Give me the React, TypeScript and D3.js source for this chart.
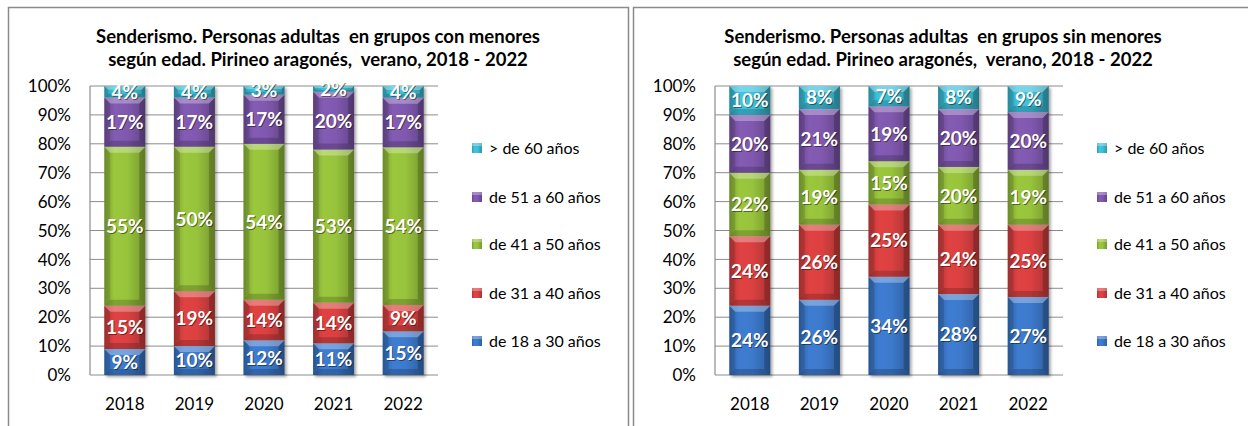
import React from "react";
import * as d3 from "d3";

const years = ["2018", "2019", "2020", "2021", "2022"];
const seriesNames = ["de 18 a 30 años", "de 31 a 40 años", "de 41 a 50 años", "de 51 a 60 años", "> de 60 años"];
const yTicks = [0, 10, 20, 30, 40, 50, 60, 70, 80, 90, 100];

// Con menores
const con18a30 = [9, 10, 12, 11, 15];
const con31a40 = [15, 19, 14, 14, 9];
const con41a50 = [55, 50, 54, 53, 54];
const con51a60 = [17, 17, 17, 20, 17];
const conMas60 = [4, 4, 3, 2, 4];

// Sin menores
const sin18a30 = [24, 26, 34, 28, 27];
const sin31a40 = [24, 26, 25, 24, 25];
const sin41a50 = [22, 19, 15, 20, 19];
const sin51a60 = [20, 21, 19, 20, 20];
const sinMas60 = [10, 8, 7, 8, 9];

const titleCon = ["Senderismo. Personas adultas  en grupos con menores", "según edad. Pirineo aragonés,  verano, 2018 - 2022"];
const titleSin = ["Senderismo. Personas adultas  en grupos sin menores", "según edad. Pirineo aragonés,  verano, 2018 - 2022"];

const colors = ["#3a76c6", "#d43f3f", "#93bd3a", "#7c56aa", "#3bbad3"];

const FONT = "Lato, 'Open Sans', sans-serif";

type ChartProps = { dx: number; title: string[]; series: number[][]; id: string };

function Chart({ dx, title, series, id }: ChartProps) {
  const plotL = 90 + dx;
  const plotR = 438 + dx;
  const plotT = 86;
  const plotB = 375;
  const x = d3.scaleBand<string>().domain(years).range([plotL, plotR]).paddingInner(0.41).paddingOuter(0.205);
  const y = d3.scaleLinear().domain([0, 1]).range([plotB, plotT]);
  const rows = years.map((yr, i) => {
    const o: any = { year: yr };
    seriesNames.forEach((s, k) => (o[s] = series[k][i]));
    return o;
  });
  const stack = d3.stack<any>().keys(seriesNames).offset(d3.stackOffsetExpand)(rows);
  const bw = x.bandwidth();

  const bevel = (x0: number, y0: number, w: number, h: number, k: number) => {
    const b = Math.min(6, h / 3);
    return (
      <g>
        <rect x={x0} y={y0} width={w} height={h} fill={`url(#g${id}${k})`} />
        <polygon points={`${x0},${y0} ${x0 + w},${y0} ${x0 + w - b},${y0 + b} ${x0 + b},${y0 + b}`} fill="#ffffff" opacity={0.3} />
        <polygon points={`${x0},${y0 + h} ${x0 + w},${y0 + h} ${x0 + w - b},${y0 + h - b} ${x0 + b},${y0 + h - b}`} fill="#000000" opacity={0.18} />
        <polygon points={`${x0},${y0} ${x0 + b},${y0 + b} ${x0 + b},${y0 + h - b} ${x0},${y0 + h}`} fill="#000000" opacity={0.12} />
        <polygon points={`${x0 + w},${y0} ${x0 + w - b},${y0 + b} ${x0 + w - b},${y0 + h - b} ${x0 + w},${y0 + h}`} fill="#000000" opacity={0.2} />
      </g>
    );
  };

  return (
    <g fontFamily={FONT}>
      <defs>
        {colors.map((c, k) => {
          const base = d3.color(c)!;
          return (
            <linearGradient key={k} id={`g${id}${k}`} x1="0" x2="1" y1="0" y2="0">
              <stop offset="0" stopColor={base.darker(0.5).toString()} />
              <stop offset="0.25" stopColor={base.brighter(0.15).toString()} />
              <stop offset="0.55" stopColor={base.brighter(0.1).toString()} />
              <stop offset="1" stopColor={base.darker(0.6).toString()} />
            </linearGradient>
          );
        })}
        <filter id={`sh${id}`} x="-20%" y="-20%" width="150%" height="150%">
          <feGaussianBlur in="SourceAlpha" stdDeviation="1.5" />
          <feOffset dx="2" dy="2" result="o" />
          <feComponentTransfer><feFuncA type="linear" slope="0.35" /></feComponentTransfer>
          <feMerge><feMergeNode /><feMergeNode in="SourceGraphic" /></feMerge>
        </filter>
      </defs>
      <rect x={8.5 + dx} y={7.5} width={620} height={440} fill="#ffffff" stroke="#8a8a8a" strokeWidth={1.5} />
      {title.map((t, i) => (
        <text key={i} x={318 + dx} y={43 + i * 23} textAnchor="middle" fontWeight="bold" fontSize={18.5} fill="#000" style={{ whiteSpace: "pre" }}>{t}</text>
      ))}
      {yTicks.map((t) => (
        <g key={t}>
          <line x1={plotL} x2={plotR} y1={y(t / 100)} y2={y(t / 100)} stroke="#8c8c8c" strokeWidth={1} />
          <text x={71 + dx} y={y(t / 100)} dy="0.36em" textAnchor="end" fontSize={17} fill="#000">{t}%</text>
        </g>
      ))}
      <line x1={plotL} x2={plotL} y1={plotT} y2={plotB} stroke="#8c8c8c" strokeWidth={1.2} />
      {years.map((yr, i) => (
        <g key={yr} filter={`url(#sh${id})`}>
          {stack.map((s, k) => {
            const d = s[i];
            const y0 = y(d[1]);
            const h = y(d[0]) - y(d[1]);
            return <g key={k}>{bevel(x(yr)!, y0, bw, h, k)}</g>;
          })}
        </g>
      ))}
      {years.map((yr, i) => (
        <g key={yr}>
          {stack.map((s, k) => {
            const d = s[i];
            const cy = (y(d[0]) + y(d[1])) / 2;
            const cx = x(yr)! + bw / 2;
            const label = `${series[k][i]}%`;
            return (
              <g key={k} fontWeight="bold" fontSize={19} textAnchor="middle">
                <text x={cx + 1} y={cy + 1} dy="0.36em" fill="#000" opacity={0.45}>{label}</text>
                <text x={cx} y={cy} dy="0.36em" fill="#ffffff">{label}</text>
              </g>
            );
          })}
        </g>
      ))}
      {years.map((yr) => (
        <text key={yr} x={x(yr)! + bw / 2} y={410} textAnchor="middle" fontSize={17} fill="#000">{yr}</text>
      ))}
      {seriesNames.slice().reverse().map((s, j) => {
        const k = seriesNames.length - 1 - j;
        const cy = [148, 197, 244, 293, 341][j];
        return (
          <g key={s}>
            <rect x={472 + dx} y={cy - 5} width={10} height={10} fill={`url(#g${id}${k})`} />
            <rect x={472 + dx} y={cy - 5} width={10} height={3} fill="#fff" opacity={0.3} />
            <text x={489 + dx} y={cy} dy="0.36em" fontSize={16} fill="#000">{s}</text>
          </g>
        );
      })}
    </g>
  );
}

export default function App() {
  const con = [con18a30, con31a40, con41a50, con51a60, conMas60];
  const sin = [sin18a30, sin31a40, sin41a50, sin51a60, sinMas60];
  return (
    <svg width={1248} height={426} style={{ position: "absolute", left: 0, top: 0, background: "#fff" }}>
      <rect x={0} y={0} width={1248} height={426} fill="#ffffff" />
      <Chart dx={0} title={titleCon} series={con} id="a" />
      <Chart dx={625} title={titleSin} series={sin} id="b" />
    </svg>
  );
}
